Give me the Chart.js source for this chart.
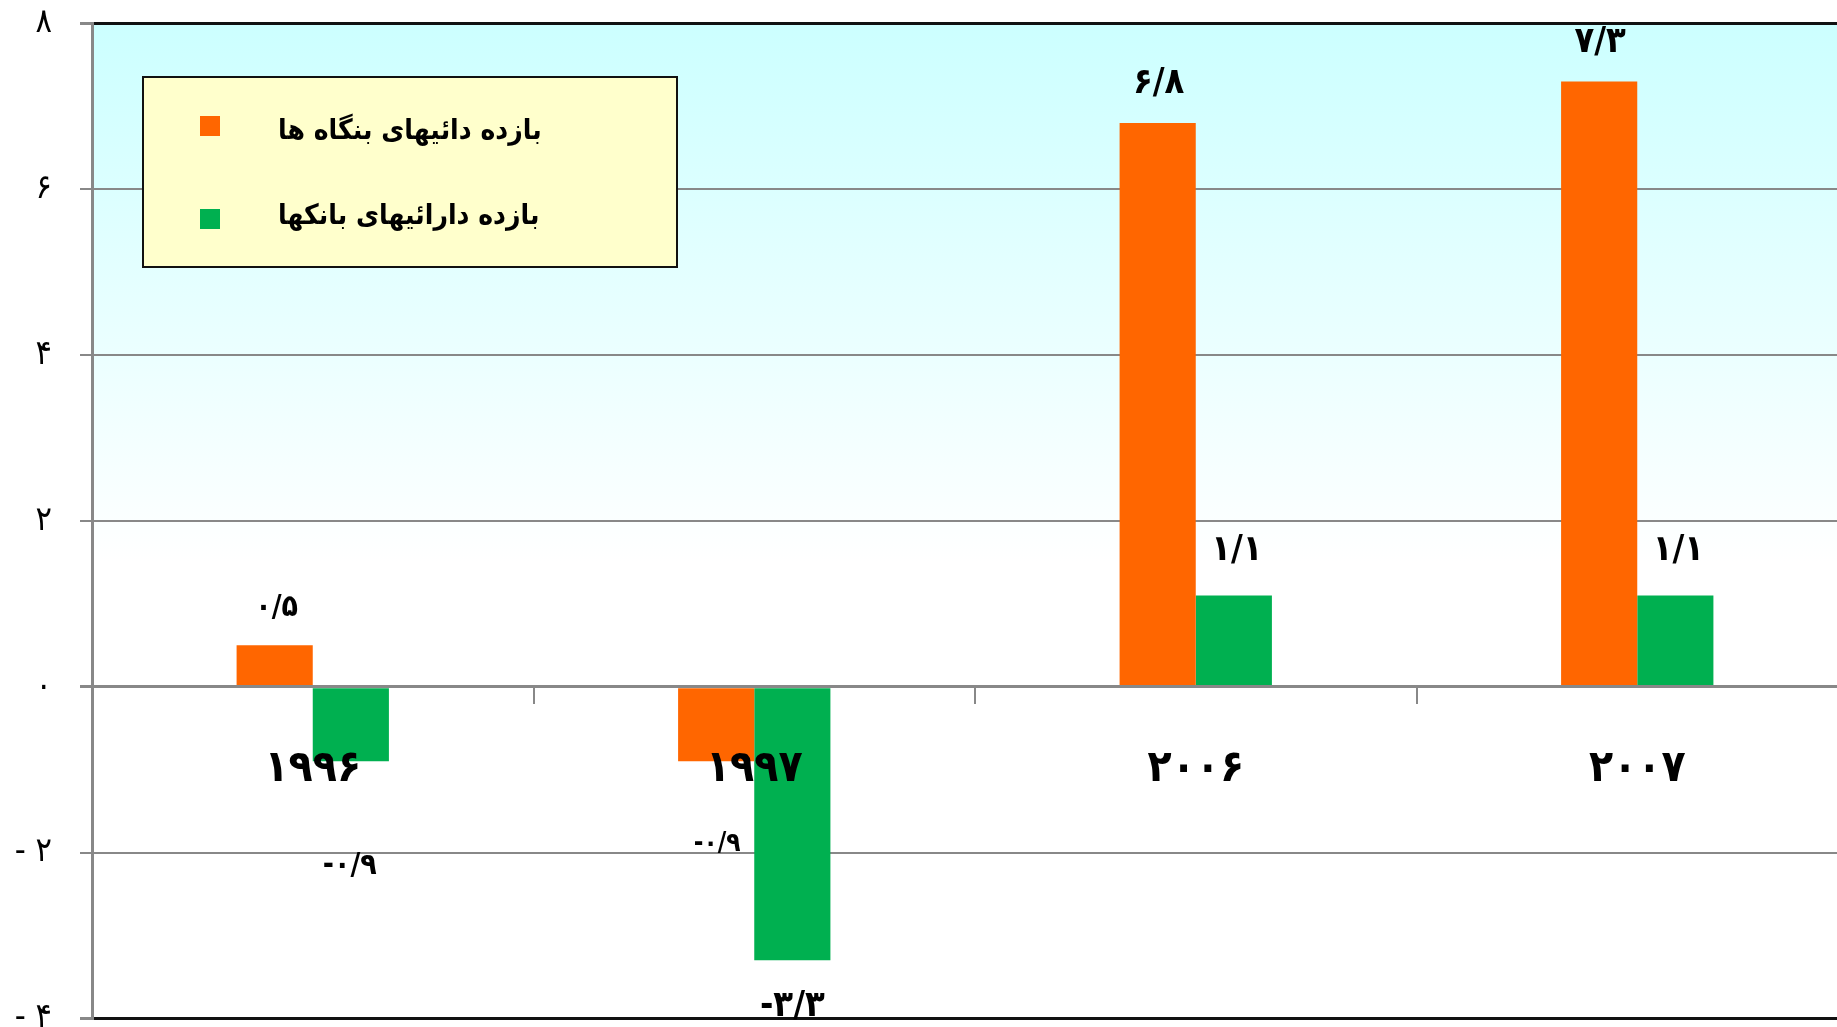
<!DOCTYPE html>
<html lang="fa">
<head>
<meta charset="utf-8">
<title>بازده دارائیها</title>
<script src="https://cdn.jsdelivr.net/npm/chart.js@4.4.1/dist/chart.umd.min.js"></script>
<style>
html, body { margin: 0; padding: 0; background: #fff; overflow: hidden; }
#wrap { position: relative; width: 1860px; height: 1027px; }
</style>
</head>
<body>
<div id="wrap"><canvas id="chart"></canvas></div>
<script>
// سالها
const years = ['۱۹۹۶', '۱۹۹۷', '۲۰۰۶', '۲۰۰۷'];

// بازده دارائیهای بنگاه ها
const firmReturns = [0.5, -0.9, 6.8, 7.3];

// بازده دارائیهای بانکها
const bankReturns = [-0.9, -3.3, 1.1, 1.1];

const seriesLabels = ['بازده دائیهای بنگاه ها', 'بازده دارائیهای بانکها'];
const seriesColors = ['#FF6600', '#00B050'];

// محور عمودی
const yMin = -4;
const yMax = 8;
const yStep = 2;

const faFont = '"DejaVu Sans Condensed", "DejaVu Sans", sans-serif';

// جای برچسب مقدارها نسبت به سر ستون: [dx, dy, اندازه فونت]
const labelStyle = [
    [[2, -37, 30], [1, 83, 26], [1, -39, 36], [1, -39, 36]],
    [[-1, 105, 30], [0, 46, 36], [3, -45, 36], [3, -45, 36]]
];

// عدد به رقم فارسی
function toFa(v) {
    return String(v).replace('.', '/').replace(/\d/g, d => '۰۱۲۳۴۵۶۷۸۹'[d]);
}

// برچسب محور عمودی (منفی با فاصله)
function axisFa(v) {
    return v < 0 ? '- ' + toFa(-v) : toFa(v);
}

// پس زمینه ناحیه نمودار
const plotFill = {
    id: 'plotFill',
    beforeDraw(chart) {
        const { ctx, chartArea: a, scales } = chart;
        const g = ctx.createLinearGradient(0, a.top, 0, scales.y.getPixelForValue(1.5));
        g.addColorStop(0, '#CCFFFF');
        g.addColorStop(1, '#FFFFFF');
        ctx.save();
        ctx.fillStyle = g;
        ctx.fillRect(a.left, a.top, a.right - a.left, a.bottom - a.top);
        ctx.restore();
    }
};

// برچسب مقدارها
const valueLabels = {
    id: 'valueLabels',
    afterDatasetsDraw(chart) {
        const ctx = chart.ctx;
        chart.data.datasets.forEach((ds, i) => {
            chart.getDatasetMeta(i).data.forEach((bar, j) => {
                const [dx, dy, size] = labelStyle[i][j];
                ctx.save();
                ctx.font = `bold ${size}px ${faFont}`;
                ctx.fillStyle = '#000';
                ctx.textAlign = 'center';
                ctx.textBaseline = 'middle';
                ctx.fillText(toFa(ds.data[j]), bar.x + dx, bar.y + dy);
                ctx.restore();
            });
        });
    }
};

// راهنما
const legendBox = {
    id: 'legendBox',
    afterDraw(chart) {
        const ctx = chart.ctx;
        const rows = [126, 219];
        const textY = [132, 217];
        ctx.save();
        ctx.fillStyle = '#FFFFCC';
        ctx.fillRect(143, 77, 534, 190);
        ctx.lineWidth = 2;
        ctx.strokeStyle = '#111';
        ctx.strokeRect(143, 77, 534, 190);
        chart.data.datasets.forEach((ds, i) => {
            ctx.fillStyle = ds.backgroundColor;
            ctx.fillRect(200, rows[i] - 10, 20, 20);
            ctx.fillStyle = '#000';
            ctx.font = `bold 28px ${faFont}`;
            ctx.textAlign = 'left';
            ctx.textBaseline = 'middle';
            ctx.fillText(ds.label, 278, textY[i]);
        });
        ctx.restore();
    }
};

const edgeValues = [yMin, yMax];

new Chart(document.getElementById('chart'), {
    type: 'bar',
    data: {
        labels: years,
        datasets: [
            { label: seriesLabels[0], data: firmReturns, backgroundColor: seriesColors[0] },
            { label: seriesLabels[1], data: bankReturns, backgroundColor: seriesColors[1] }
        ]
    },
    options: {
        responsive: true,
        maintainAspectRatio: false,
        animation: false,
        layout: { padding: { top: 23.5, bottom: 8.7, right: 2, left: 0 } },
        datasets: { bar: { categoryPercentage: 0.345, barPercentage: 1 } },
        plugins: {
            legend: { display: false },
            tooltip: { enabled: false }
        },
        scales: {
            x: {
                position: { y: 0 },
                afterFit(s) {
                    s.height = 0;
                    s.paddingLeft = 0;
                    s.paddingRight = 0;
                },
                grid: { z: 1, drawOnChartArea: false, tickLength: 16, color: '#888', lineWidth: 2, offset: true },
                border: { z: 1, color: '#888', width: 3 },
                ticks: { z: 1, color: '#000', padding: 40, maxRotation: 0, font: { family: faFont, size: 44, weight: 'bold' } }
            },
            y: {
                min: yMin,
                max: yMax,
                afterFit(s) {
                    s.width = 92;
                    s.paddingTop = 0;
                    s.paddingBottom = 0;
                },
                grid: {
                    color: c => edgeValues.includes(c.tick.value) ? '#111' : '#888',
                    lineWidth: c => (edgeValues.includes(c.tick.value) || c.tick.value === 0) ? 3 : 2,
                    tickColor: '#888',
                    tickLength: 12
                },
                border: { color: '#888', width: 3 },
                ticks: {
                    stepSize: yStep,
                    padding: 28,
                    color: '#000',
                    font: { family: faFont, size: 34 },
                    callback: v => axisFa(v)
                }
            }
        }
    },
    plugins: [plotFill, valueLabels, legendBox]
});
</script>
</body>
</html>
